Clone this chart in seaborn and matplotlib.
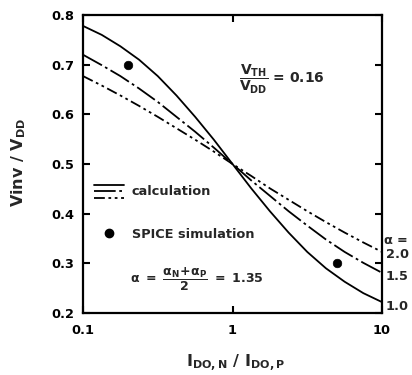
import numpy as np
import pandas as pd
import matplotlib
matplotlib.use("Agg")
import matplotlib.pyplot as plt
import seaborn as sns
from matplotlib.lines import Line2D
from matplotlib.legend_handler import HandlerBase
from matplotlib.ticker import NullLocator

# ---- data ----
ratio = [0.1, 0.1334, 0.1778, 0.2371, 0.3162, 0.4217, 0.5623, 0.7499, 1.0,
         1.334, 1.778, 2.371, 3.162, 4.217, 5.623, 7.499, 10.0]
vinv_a10 = [0.778, 0.760, 0.737, 0.710, 0.677, 0.638, 0.595, 0.549, 0.500,
            0.451, 0.405, 0.362, 0.323, 0.290, 0.263, 0.240, 0.222]
vinv_a15 = [0.720, 0.699, 0.677, 0.652, 0.625, 0.595, 0.565, 0.533, 0.500,
            0.467, 0.436, 0.405, 0.376, 0.348, 0.323, 0.301, 0.281]
vinv_a20 = [0.677, 0.658, 0.638, 0.617, 0.595, 0.572, 0.549, 0.525, 0.500,
            0.476, 0.451, 0.428, 0.405, 0.383, 0.362, 0.342, 0.323]
alphas = ["1.0", "1.5", "2.0"]

spice_ratio = [0.2, 5.0]
spice_vinv = [0.70, 0.30]

xticks = [0.1, 1, 10]
xticklabels = ["0.1", "1", "10"]
yticks = [0.2, 0.3, 0.4, 0.5, 0.6, 0.7, 0.8]
yticklabels = ["0.2", "0.3", "0.4", "0.5", "0.6", "0.7", "0.8"]

# ---- style ----
sns.set_style("ticks")
plt.rcParams["font.family"] = ["DejaVu Sans"]
plt.rcParams["font.weight"] = "bold"
plt.rcParams["mathtext.fontset"] = "custom"
plt.rcParams["mathtext.rm"] = "DejaVu Sans:bold"
plt.rcParams["mathtext.it"] = "DejaVu Sans:bold"
plt.rcParams["mathtext.bf"] = "DejaVu Sans:bold"
plt.rcParams["mathtext.sf"] = "DejaVu Sans:bold"

DASHES = {"1.0": "", "1.5": (12, 2, 1.5, 2), "2.0": (6, 2, 1.5, 2, 1.5, 2)}

curves = pd.DataFrame({
    "ratio": ratio * 3,
    "vinv": vinv_a10 + vinv_a15 + vinv_a20,
    "alpha": [a for a in alphas for _ in ratio],
})

fig = plt.figure(figsize=(4.12, 3.75), dpi=100)
ax = fig.add_axes([0.2015, 0.1653, 0.7257, 0.7947])

sns.lineplot(data=curves, x="ratio", y="vinv", style="alpha", dashes=DASHES,
             color="black", linewidth=1.3, legend=False, sort=False, ax=ax)
sns.scatterplot(x=spice_ratio, y=spice_vinv, color="black", s=38,
                edgecolor="black", ax=ax, zorder=5)

ax.set_xscale("log")
ax.set_xlim(0.1, 10)
ax.set_ylim(0.2, 0.8)
ax.set_xticks(xticks)
ax.set_xticklabels(xticklabels)
ax.xaxis.set_minor_locator(NullLocator())
ax.set_yticks(yticks)
ax.set_yticklabels(yticklabels)
ax.set_xlabel("")
ax.set_ylabel("")
ax.tick_params(direction="in", top=True, right=True, length=5, width=1.5,
               labelsize=9.3, colors="black")
ax.tick_params(axis="y", pad=6.5)
ax.tick_params(axis="x", pad=8)
for s in ax.spines.values():
    s.set_linewidth(1.6)
    s.set_color("black")


# legend with the three line styles stacked next to one label
class StackHandler(HandlerBase):
    def create_artists(self, legend, orig_handle, xdescent, ydescent,
                       width, height, fontsize, trans):
        out = []
        n = len(orig_handle)
        for i, h in enumerate(orig_handle):
            y = height * (1.1 - 1.4 * i / (n - 1)) - ydescent
            ln = Line2D([-xdescent, width - xdescent], [y, y])
            ln.update_from(h)
            ln.set_transform(trans)
            out.append(ln)
        return out


line_proxies = tuple(
    Line2D([], [], color="black", linewidth=1.3,
           dashes=DASHES[a] if DASHES[a] else (None, None),
           linestyle="-" if not DASHES[a] else "--")
    for a in alphas
)
dot_proxy = Line2D([], [], color="black", marker="o", linestyle="none",
                   markersize=6)
ax.legend([line_proxies, dot_proxy], ["calculation", "SPICE simulation"],
          handler_map={tuple: StackHandler()}, loc="upper left",
          bbox_to_anchor=(0.037, 0.43), frameon=False, fontsize=9.3,
          handlelength=2.3, handletextpad=0.6, labelspacing=2.3,
          borderpad=0, borderaxespad=0)

ax.text(0.522, 0.785, r"$\dfrac{V_{TH}}{V_{DD}}$ = 0.16", transform=ax.transAxes,
        fontsize=10, ha="left", va="center")
ax.text(0.157, 0.111, r"$\alpha\ =\ \dfrac{\alpha_N\!+\!\alpha_P}{2}\ =\ 1.35$",
        transform=ax.transAxes, fontsize=9, ha="left", va="center")

# alpha labels at the right end of the curves
ax.text(1.003, 0.242, r"$\alpha$ =", transform=ax.transAxes, fontsize=9.3,
        ha="left", va="center", clip_on=False)
ax.text(1.013, 0.195, "2.0", transform=ax.transAxes, fontsize=9.3,
        ha="left", va="center", clip_on=False)
ax.text(1.013, 0.121, "1.5", transform=ax.transAxes, fontsize=9.3,
        ha="left", va="center", clip_on=False)
ax.text(1.013, 0.023, "1.0", transform=ax.transAxes, fontsize=9.3,
        ha="left", va="center", clip_on=False)

fig.text(19 / 412, 1 - 162 / 375, r"Vinv / V$_{DD}$", rotation=90,
         ha="center", va="center", fontsize=11.5)
fig.text(236 / 412, 1 - 363 / 375, r"I$_{DO,N}$ / I$_{DO,P}$",
         ha="center", va="center", fontsize=11.5)

fig.savefig("out.png", dpi=100)
